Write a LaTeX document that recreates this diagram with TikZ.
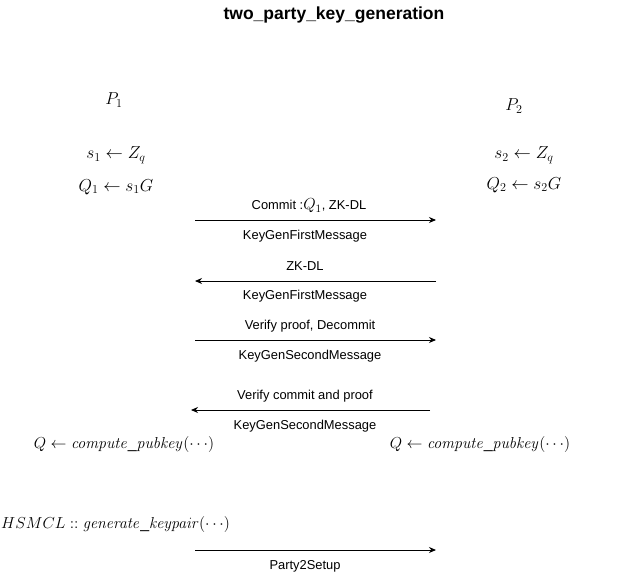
\RequirePackage{fix-cm}
\documentclass[tikz,border=0pt]{standalone}
\usepackage[no-math]{fontspec}
\setmainfont{Liberation Sans}
\usetikzlibrary{arrows.meta}

\begin{document}
\begin{tikzpicture}[x=1pt,y=-1pt,>={Stealth[length=7pt,width=6pt]},
    msg/.style={->,line width=0.9pt},
    lbl/.style={font=\fontsize{12.9}{15}\selectfont,inner sep=0pt},
    mth/.style={font=\fontsize{17.3}{19}\selectfont,inner sep=0pt},
    fn/.style={mth,font=\fontsize{15.9}{18}\selectfont}]
  \useasboundingbox (0,0) rectangle (630,581);
  \node[font=\bfseries\fontsize{17.5}{20}\selectfont,inner sep=0pt] (title) at (334,15) {two\_party\_key\_generation};
  % the two parties
  \node[mth] (p1) at (114,100) {$P_1$};
  \node[mth] (p2) at (514,106) {$P_2$};
  \node[mth] (s1) at (116,155) {$s_1 \leftarrow Z_q$};
  \node[mth] (q1) at (116,187) {$Q_1 \leftarrow s_1G$};
  \node[mth] (s2) at (524,155) {$s_2 \leftarrow Z_q$};
  \node[mth] (q2) at (524,185) {$Q_2 \leftarrow s_2G$};
  \node[fn] (pk1) at (124,445) {$Q \leftarrow \mathit{compute\_pubkey}(\cdots)$};
  \node[fn] (pk2) at (480,445) {$Q \leftarrow \mathit{compute\_pubkey}(\cdots)$};
  \node[fn,anchor=west] (hs) at (1,525) {$HSMCL :: \mathit{generate\_keypair}(\cdots)$};
  % messages
  \foreach \n/\a/\b/\y in {m1/195/436/220,m2/436/195/281,m3/195/436/340,m4/430/191/410,m5/195/436/550}{
    \coordinate (\n s) at (\a,\y);
    \coordinate (\n e) at (\b,\y);
    \draw[msg] (\n s) -- (\n e);
  }
  \node[lbl] (c1) at (309,206) {Commit :{\fontsize{16}{18}\selectfont$Q_1$}, ZK-DL};
  \node[lbl] (k1) at (305,236) {KeyGenFirstMessage};
  \node[lbl] (c2) at (305,266) {ZK-DL};
  \node[lbl] (k2) at (305,296) {KeyGenFirstMessage};
  \node[lbl] (c3) at (310,326) {Verify proof, Decommit};
  \node[lbl] (k3) at (310,356) {KeyGenSecondMessage};
  \node[lbl] (c4) at (305,396) {Verify commit and proof};
  \node[lbl] (k4) at (305,426) {KeyGenSecondMessage};
  \node[lbl] (k5) at (305,566) {Party2Setup};
\end{tikzpicture}
\end{document}
